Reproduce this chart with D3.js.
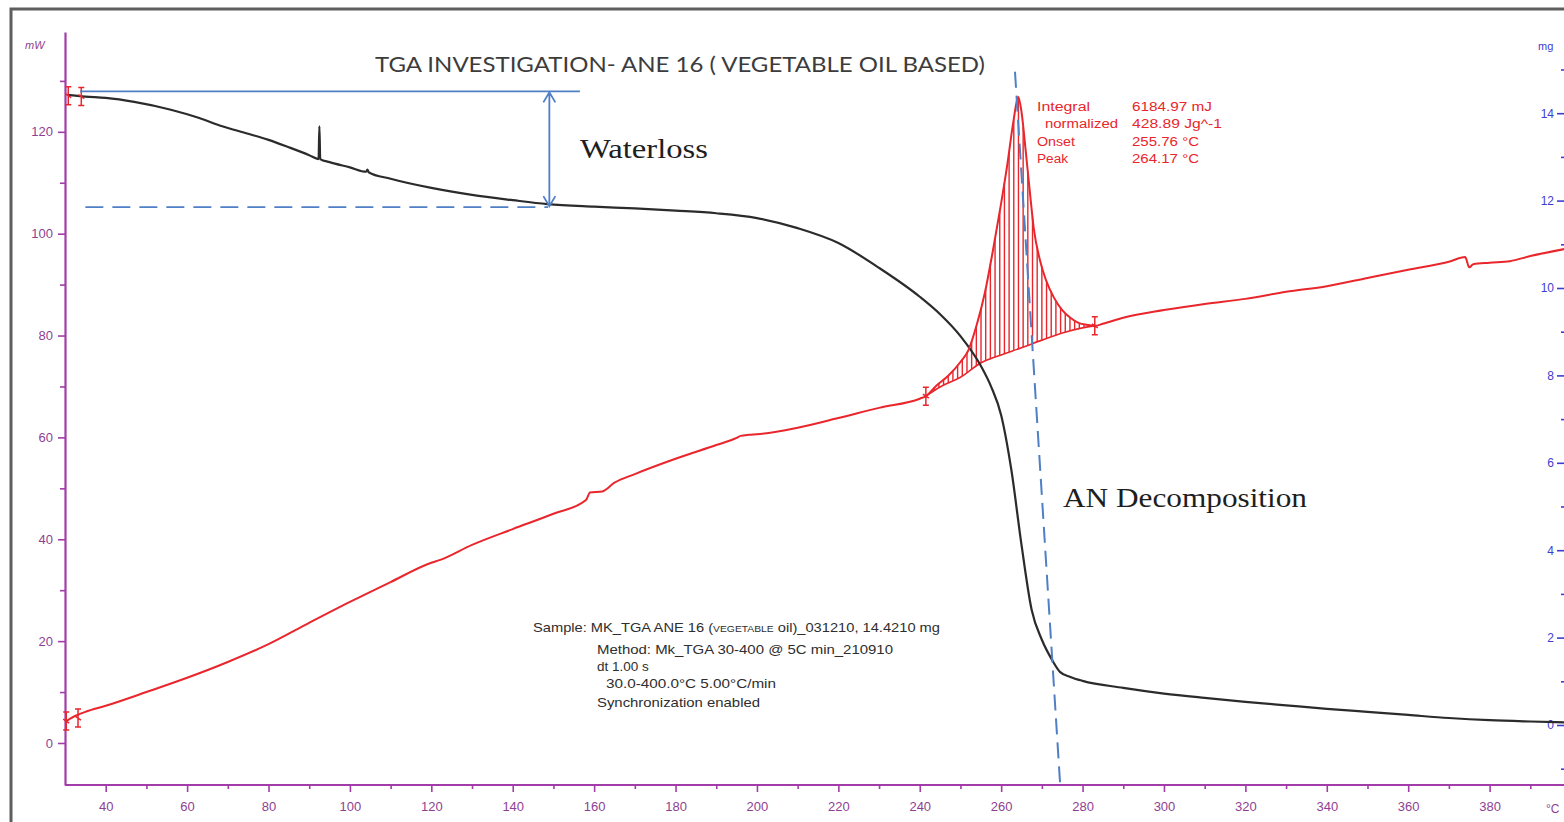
<!DOCTYPE html>
<html><head><meta charset="utf-8">
<script src="https://cdn.jsdelivr.net/npm/d3@7"></script>
<style>body{margin:0;background:#fff;overflow:hidden}svg{display:block}</style>
</head><body>
<svg id="chart" width="1564" height="822"></svg>
<script>
// ---- data ----
const massT  = [30.5,35,40,47,56,63,68,75,80,85,90,92.3,92.5,92.7,95,100,104,104.3,104.6,110,120,130,140,148.5,160,170,180,190,200,210,220,230,240,245,250,255,257.5,260,262.5,265,267.5,270,272.5,274.5,277,280,290,300,310,320,330,340,350,360,370,380,390,398.5];
const massMg = [14.42,14.38,14.35,14.26,14.08,13.89,13.72,13.53,13.39,13.22,13.04,12.95,13.70,12.95,12.88,12.76,12.66,12.71,12.65,12.50,12.29,12.13,12.01,11.92,11.86,11.82,11.77,11.71,11.60,11.37,11.03,10.46,9.80,9.40,8.90,8.22,7.75,7.09,5.84,4.12,2.63,1.95,1.49,1.21,1.10,1.01,0.85,0.72,0.62,0.53,0.45,0.37,0.30,0.23,0.16,0.11,0.08,0.06];

const dscT  = [30.3,32,35,40,50,60,70,80,90,100,110,120,122,130,140,150,158,159,162,165,170,180,190,195,196,198,200,210,220,230,240,241.5,244,247,250,252,254,256,258,260,261.5,263,264.2,265,266,267,268,269.5,271,273,275,277,279,281,283,285,290,300,310,320,330,340,350,360,370,374,375,376,380,385,390,398.5];
const dscMw = [4.3,5.1,6.1,7.3,10.0,12.8,15.9,19.4,23.6,27.7,31.6,35.4,35.9,38.9,42.0,45.0,47.7,49.2,49.4,51.1,52.8,55.8,58.5,59.9,60.3,60.5,60.6,61.9,63.8,65.8,67.6,68.1,70.1,72.1,74.8,77.2,82.1,88.4,96.8,106.0,113.5,122.0,126.9,123.9,116.5,108.6,101.1,94.9,90.9,87.4,85.0,83.5,82.5,82.1,81.9,82.3,83.5,85.0,86.2,87.2,88.6,89.7,91.3,92.9,94.5,95.4,93.4,94.0,94.3,94.6,95.6,97.0];

const baseT  = [241.5,245,250,255,260,265,270,275,280,283];
const baseMw = [68.1,69.9,71.8,74.6,76.2,77.6,79.1,80.5,81.5,81.9];

const xTicks   = [40,60,80,100,120,140,160,180,200,220,240,260,280,300,320,340,360,380];
const xMinor   = [50,70,90,110,130,150,170,190,210,230,250,270,290,310,330,350,370,390];
const mwTicks  = [0,20,40,60,80,100,120];
const mwMinor  = [10,30,50,70,90,110,130];
const mgTicks  = [0,2,4,6,8,10,12,14];
const mgMinor  = [-1,1,3,5,7,9,11,13,15];

const limitMarksDsc  = [[30.3,4.3],[33.2,4.9],[241.5,68.1],[283,81.9]];
const limitMarksMass = [[30.8,14.4],[34.0,14.38]];

const resultLabels = ["Integral","normalized","Onset","Peak"];
const resultLabelX = [1037,1045,1037,1037];
const resultLabelW = [53,73,38,31];
const resultValues = ["6184.97 mJ","428.89 Jg^-1","255.76 °C","264.17 °C"];
const resultValueW = [80,90,67,67];
const infoLines = ["Method: Mk_TGA 30-400 @ 5C min_210910","dt 1.00 s","30.0-400.0°C 5.00°C/min","Synchronization enabled"];
const infoX = [597,597,606,597];
const infoW = [296,0,170,163];

// annotation anchors (data units)
const waterTopMg = 14.5, waterBotMg = 11.85;
const waterSolidT = [33.7,156.5], waterDashT = [35,148.7], waterArrowT = 149;
const decompLine = [[263.4,131.8],[274.5,-8.25]]; // [T, mW]

// ---- scales ----
const svg = d3.select('#chart');
const x  = d3.scaleLinear().domain([30,400]).range([65,1571]);
const yL = d3.scaleLinear().domain([-8.25,139.6]).range([785,32]);
const yR = d3.scaleLinear().domain([-1.373,15.858]).range([785,32]);

const purple = '#a23ca8', purpleTxt = '#8e3f92', blueTxt = '#3d3dd0';
const red = '#e8262c', black = '#2b2b2b', annBlue = '#4f7fc6';
const sans = 'Liberation Sans, Arial, sans-serif';

// frame
svg.append('rect').attr('x',11).attr('y',9).attr('width',1600).attr('height',840)
  .attr('fill','none').attr('stroke','#5e5e5e').attr('stroke-width',3);

// ---- axes ----
function styleAxis(g,color,tcolor){
  g.selectAll('path').attr('stroke',color).attr('stroke-width',2.2);
  g.selectAll('line').attr('stroke',color).attr('stroke-width',1.6);
  g.selectAll('text').attr('fill',tcolor).attr('font-family',sans).attr('font-size',13);
}
const gx = svg.append('g').attr('transform','translate(0,785)')
  .call(d3.axisBottom(x).tickValues(xTicks).tickSize(7).tickPadding(10).tickSizeOuter(0));
gx.select('.domain').attr('d','M65,0H1564');
styleAxis(gx,purple,purpleTxt);
const gxm = svg.append('g').attr('transform','translate(0,785)')
  .call(d3.axisBottom(x).tickValues(xMinor).tickSize(4).tickFormat(''));
gxm.select('.domain').remove(); styleAxis(gxm,purple,purpleTxt);
svg.append('text').attr('x',1546).attr('y',813).attr('fill',purpleTxt)
  .attr('font-family',sans).attr('font-size',12).text('°C');

const gl = svg.append('g').attr('transform','translate(65,0)')
  .call(d3.axisLeft(yL).tickValues(mwTicks).tickSize(7).tickPadding(5).tickSizeOuter(0));
styleAxis(gl,purple,purpleTxt);
const glm = svg.append('g').attr('transform','translate(65,0)')
  .call(d3.axisLeft(yL).tickValues(mwMinor).tickSize(5).tickFormat(''));
glm.select('.domain').remove(); styleAxis(glm,purple,purpleTxt);
svg.append('text').attr('x',25).attr('y',49).attr('fill',purpleTxt).attr('font-style','italic')
  .attr('font-family',sans).attr('font-size',11).text('mW');

const gr = svg.append('g').attr('transform','translate(1564,0)')
  .call(d3.axisLeft(yR).tickValues(mgTicks).tickSize(7).tickPadding(3).tickSizeOuter(0));
gr.select('.domain').remove();
styleAxis(gr,blueTxt,blueTxt); gr.selectAll('text').attr('font-size',12);
const grm = svg.append('g').attr('transform','translate(1564,0)')
  .call(d3.axisLeft(yR).tickValues(mgMinor).tickSize(3).tickFormat(''));
grm.select('.domain').remove(); styleAxis(grm,blueTxt,blueTxt);
svg.append('text').attr('x',1538).attr('y',50).attr('fill',blueTxt)
  .attr('font-family',sans).attr('font-size',11).text('mg');

// ---- title ----
svg.append('text').attr('x',375).attr('y',72).attr('fill','#3c3c3c')
  .attr('font-family','Lato, Open Sans, sans-serif').attr('font-size',21)
  .attr('textLength',610).attr('lengthAdjust','spacingAndGlyphs')
  .text('TGA INVESTIGATION- ANE 16 ( VEGETABLE OIL BASED)');

// ---- hatched peak area ----
const peakPts = dscT.map((t,i)=>[t,dscMw[i]]).filter(d=>d[0]>=241.5&&d[0]<=283);
const basePts = baseT.map((t,i)=>[t,baseMw[i]]);
function interp(pts,t){
  const i = d3.bisector(d=>d[0]).right(pts,t);
  if(i<=0) return pts[0][1]; if(i>=pts.length) return pts[pts.length-1][1];
  const a=pts[i-1], b=pts[i]; return a[1]+(b[1]-a[1])*(t-a[0])/(b[0]-a[0]);
}
const hatchT = d3.range(242.4,282.8,1.15);
svg.append('g').selectAll('line').data(hatchT).join('line')
  .attr('x1',d=>x(d)).attr('x2',d=>x(d))
  .attr('y1',d=>yL(interp(peakPts,d))).attr('y2',d=>yL(interp(basePts,d)))
  .attr('stroke',red).attr('stroke-width',1.4);
svg.append('path').datum(basePts)
  .attr('d',d3.line().x(d=>x(d[0])).y(d=>yL(d[1])).curve(d3.curveMonotoneX))
  .attr('fill','none').attr('stroke',red).attr('stroke-width',1.6);

// ---- curves ----
const massPts = massT.map((t,i)=>[t,massMg[i]]);
svg.append('path').datum(massPts)
  .attr('d',d3.line().x(d=>x(d[0])).y(d=>yR(d[1])).curve(d3.curveMonotoneX))
  .attr('fill','none').attr('stroke',black).attr('stroke-width',2.2).attr('stroke-linejoin','round');

const dscPts = dscT.map((t,i)=>[t,dscMw[i]]);
svg.append('path').datum(dscPts)
  .attr('d',d3.line().x(d=>x(d[0])).y(d=>yL(d[1])).curve(d3.curveMonotoneX))
  .attr('fill','none').attr('stroke',red).attr('stroke-width',2).attr('stroke-linejoin','round');

// limit markers
function limitMark(px,py){
  return `M${px},${py-9}V${py+9}M${px-3},${py-9}H${px+3}M${px-3},${py+9}H${px+3}M${px-3},${py-2}L${px+3},${py+2}`;
}
svg.append('g').selectAll('path').data(limitMarksDsc).join('path')
  .attr('d',d=>limitMark(x(d[0]),yL(d[1]))).attr('stroke',red).attr('stroke-width',1.5).attr('fill','none');
svg.append('g').selectAll('path').data(limitMarksMass).join('path')
  .attr('d',d=>limitMark(x(d[0]),yR(d[1]))).attr('stroke',red).attr('stroke-width',1.5).attr('fill','none');

// ---- blue annotations ----
svg.append('line').attr('x1',x(waterSolidT[0])).attr('x2',x(waterSolidT[1]))
  .attr('y1',yR(waterTopMg)).attr('y2',yR(waterTopMg)).attr('stroke',annBlue).attr('stroke-width',1.8);
svg.append('line').attr('x1',x(waterDashT[0])).attr('x2',x(waterDashT[1]))
  .attr('y1',yR(waterBotMg)).attr('y2',yR(waterBotMg)).attr('stroke',annBlue).attr('stroke-width',1.8)
  .attr('stroke-dasharray','18,9');
const ax = x(waterArrowT), at = yR(waterTopMg)+1, ab = yR(waterBotMg)-1;
svg.append('path').attr('d',`M${ax},${at}V${ab}M${ax-6},${at+10}L${ax},${at}L${ax+6},${at+10}M${ax-6},${ab-10}L${ax},${ab}L${ax+6},${ab-10}`)
  .attr('fill','none').attr('stroke',annBlue).attr('stroke-width',1.8);
svg.append('line').attr('x1',x(decompLine[0][0])).attr('y1',yL(decompLine[0][1]))
  .attr('x2',x(decompLine[1][0])).attr('y2',yL(decompLine[1][1]))
  .attr('stroke',annBlue).attr('stroke-width',2).attr('stroke-dasharray','16,8');

svg.append('text').attr('x',580).attr('y',158).attr('fill','#1e1e1e')
  .attr('font-family','Liberation Serif, Times New Roman, serif').attr('font-size',27)
  .attr('textLength',128).attr('lengthAdjust','spacingAndGlyphs').text('Waterloss');
svg.append('text').attr('x',1063).attr('y',507).attr('fill','#1e1e1e')
  .attr('font-family','Liberation Serif, Times New Roman, serif').attr('font-size',27)
  .attr('textLength',244).attr('lengthAdjust','spacingAndGlyphs').text('AN Decomposition');

// ---- result text (red) ----
const rg = svg.append('g').attr('font-family',sans).attr('font-size',12).attr('fill',red);
rg.selectAll('text.l').data(resultLabels).join('text').attr('class','l')
  .attr('x',(d,i)=>resultLabelX[i]).attr('y',(d,i)=>111+i*17.3)
  .attr('textLength',(d,i)=>resultLabelW[i]).attr('lengthAdjust','spacingAndGlyphs').text(d=>d);
rg.selectAll('text.v').data(resultValues).join('text').attr('class','v')
  .attr('x',1132).attr('y',(d,i)=>111+i*17.3)
  .attr('textLength',(d,i)=>resultValueW[i]).attr('lengthAdjust','spacingAndGlyphs').text(d=>d);

// ---- sample info ----
const ig = svg.append('g').attr('font-family',sans).attr('font-size',13.5).attr('fill','#2e2e2e');
const s = ig.append('text').attr('x',533).attr('y',632).attr('textLength',407).attr('lengthAdjust','spacingAndGlyphs');
s.append('tspan').text('Sample: MK_TGA ANE 16 (');
s.append('tspan').attr('font-size',9.5).text('VEGETABLE');
s.append('tspan').text(' oil)_031210, 14.4210 mg');
ig.selectAll('text.m').data(infoLines).join('text').attr('class','m')
  .attr('x',(d,i)=>infoX[i]).attr('y',(d,i)=>[654,671,688,707][i])
  .each(function(d,i){ if(infoW[i]>0) d3.select(this).attr('textLength',infoW[i]).attr('lengthAdjust','spacingAndGlyphs'); })
  .text(d=>d);
</script>
</body></html>
